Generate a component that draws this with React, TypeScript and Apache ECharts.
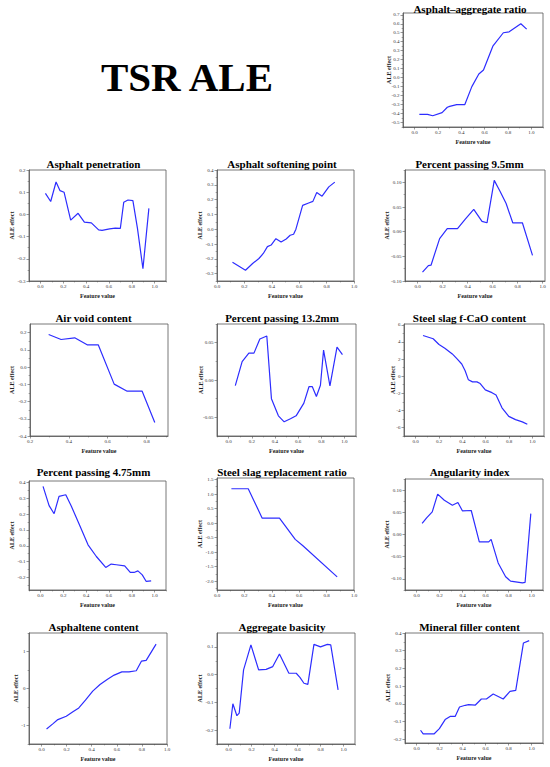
import React, { useEffect, useRef } from "react";
import * as echarts from "echarts";

// ---------- data ----------
const aggRatioX = [0.04, 0.11, 0.155, 0.235, 0.28, 0.30, 0.36, 0.43, 0.49, 0.55, 0.59, 0.67, 0.76, 0.81, 0.91, 0.96];
const aggRatioY = [-0.41, -0.41, -0.425, -0.39, -0.33, -0.32, -0.30, -0.30, -0.10, 0.04, 0.085, 0.35, 0.50, 0.51, 0.60, 0.54];

const penetrationX = [0.044, 0.09, 0.137, 0.172, 0.207, 0.265, 0.33, 0.385, 0.446, 0.51, 0.54, 0.606, 0.656, 0.70, 0.73, 0.767, 0.81, 0.85, 0.898, 0.95];
const penetrationY = [0.095, 0.058, 0.146, 0.107, 0.10, -0.026, 0.005, -0.035, -0.038, -0.07, -0.072, -0.065, -0.062, -0.063, 0.055, 0.065, 0.062, -0.063, -0.245, 0.027];

const softeningX = [0.113, 0.208, 0.26, 0.306, 0.338, 0.368, 0.395, 0.43, 0.468, 0.505, 0.534, 0.559, 0.576, 0.625, 0.669, 0.70, 0.728, 0.767, 0.816, 0.86];
const softeningY = [-0.223, -0.277, -0.232, -0.198, -0.164, -0.118, -0.107, -0.064, -0.086, -0.066, -0.041, -0.034, 0.0, 0.161, 0.177, 0.188, 0.248, 0.223, 0.286, 0.318];

const pass95X = [0.04, 0.087, 0.108, 0.177, 0.238, 0.32, 0.384, 0.45, 0.516, 0.556, 0.614, 0.66, 0.709, 0.762, 0.839, 0.92];
const pass95Y = [-0.082, -0.069, -0.068, -0.014, 0.006, 0.006, 0.026, 0.045, 0.021, 0.018, 0.104, 0.082, 0.057, 0.018, 0.018, -0.048];

const airVoidX = [0.296, 0.36, 0.43, 0.494, 0.551, 0.633, 0.70, 0.777, 0.842];
const airVoidY = [0.189, 0.16, 0.17, 0.129, 0.129, -0.099, -0.14, -0.14, -0.322];

const pass132X = [0.058, 0.117, 0.175, 0.219, 0.27, 0.33, 0.37, 0.43, 0.48, 0.534, 0.583, 0.65, 0.694, 0.723, 0.758, 0.793, 0.82, 0.875, 0.936, 0.983];
const pass132Y = [-0.0076, 0.0247, 0.036, 0.036, 0.055, 0.059, -0.025, -0.048, -0.056, -0.052, -0.048, -0.031, -0.009, -0.009, -0.022, -0.007, 0.040, -0.008, 0.044, 0.034];

const fCaoX = [0.063, 0.15, 0.2, 0.25, 0.314, 0.357, 0.395, 0.424, 0.452, 0.487, 0.525, 0.553, 0.597, 0.654, 0.689, 0.74, 0.798, 0.856, 0.914, 0.957];
const fCaoY = [4.76, 4.37, 3.7, 3.27, 2.6, 2.0, 1.42, 0.63, -0.43, -0.67, -0.67, -0.87, -1.6, -1.93, -2.2, -3.7, -4.7, -5.08, -5.35, -5.63];

const pass475X = [0.023, 0.076, 0.12, 0.163, 0.222, 0.271, 0.335, 0.417, 0.49, 0.572, 0.62, 0.665, 0.738, 0.787, 0.82, 0.854, 0.892, 0.927, 0.97];
const pass475Y = [0.376, 0.254, 0.203, 0.313, 0.323, 0.25, 0.144, 0.006, -0.068, -0.137, -0.116, -0.12, -0.127, -0.169, -0.169, -0.159, -0.184, -0.226, -0.222];

const replaceX = [0.105, 0.228, 0.33, 0.456, 0.571, 0.627, 0.877];
const replaceY = [1.18, 1.18, 0.17, 0.17, -0.56, -0.78, -1.85];

const angularX = [0.049, 0.088, 0.137, 0.184, 0.242, 0.312, 0.36, 0.40, 0.476, 0.546, 0.628, 0.649, 0.71, 0.775, 0.818, 0.921, 0.944, 0.994];
const angularY = [0.0248, 0.0376, 0.051, 0.091, 0.077, 0.066, 0.072, 0.053, 0.054, -0.0165, -0.0165, -0.011, -0.064, -0.095, -0.105, -0.109, -0.108, 0.047];

const asphalteneX = [0.04, 0.092, 0.13, 0.197, 0.25, 0.297, 0.35, 0.408, 0.466, 0.526, 0.579, 0.64, 0.697, 0.755, 0.797, 0.834, 0.913];
const asphalteneY = [-1.095, -0.95, -0.84, -0.75, -0.63, -0.525, -0.317, -0.072, 0.109, 0.253, 0.362, 0.45, 0.45, 0.48, 0.742, 0.76, 1.20];

const basicityX = [0.012, 0.038, 0.073, 0.093, 0.131, 0.195, 0.262, 0.327, 0.385, 0.443, 0.525, 0.589, 0.621, 0.656, 0.69, 0.743, 0.80, 0.86, 0.889, 0.953];
const basicityY = [-0.195, -0.105, -0.148, -0.139, 0.017, 0.107, 0.017, 0.019, 0.029, 0.074, 0.005, 0.005, -0.0096, -0.031, -0.035, 0.109, 0.10, 0.109, 0.107, -0.055];

const fillerX = [0.035, 0.058, 0.152, 0.199, 0.249, 0.292, 0.336, 0.374, 0.424, 0.453, 0.512, 0.564, 0.608, 0.667, 0.754, 0.813, 0.863, 0.93, 0.98];
const fillerY = [-0.148, -0.169, -0.169, -0.139, -0.088, -0.07, -0.07, -0.017, -0.0075, -0.004, -0.006, 0.028, 0.028, 0.056, 0.028, 0.071, 0.077, 0.344, 0.357];

// ---------- tick labels ----------
const xTicksUnit = [0, 0.2, 0.4, 0.6, 0.8, 1.0];
const xTicksAirVoid = [0.2, 0.4, 0.6, 0.8];
const yTicksAggRatio = [-0.5, -0.4, -0.3, -0.2, -0.1, 0, 0.1, 0.2, 0.3, 0.4, 0.5, 0.6, 0.7];
const yTicksPenetration = [-0.3, -0.2, -0.1, 0, 0.1, 0.2];
const yTicksSoftening = [-0.3, -0.2, -0.1, 0, 0.1, 0.2, 0.3, 0.4];
const yTicksPass95 = [-0.1, -0.05, 0, 0.05, 0.1];
const yTicksAirVoid = [-0.4, -0.3, -0.2, -0.1, 0, 0.1, 0.2];
const yTicksPass132 = [-0.05, 0, 0.05];
const yTicksFCao = [-6, -4, -2, 0, 2, 4, 6];
const yTicksPass475 = [-0.2, -0.1, 0, 0.1, 0.2, 0.3, 0.4];
const yTicksReplace = [-2.0, -1.5, -1.0, -0.5, 0, 0.5, 1.0, 1.5];
const yTicksAngular = [-0.1, -0.05, 0, 0.05, 0.1];
const yTicksAsphaltene = [-1, 0, 1];
const yTicksBasicity = [-0.2, -0.1, 0, 0.1];
const yTicksFiller = [-0.2, -0.1, 0, 0.1, 0.2, 0.3, 0.4];

const titles = [
  "Asphalt–aggregate ratio",
  "Asphalt penetration",
  "Asphalt softening point",
  "Percent passing 9.5mm",
  "Air void content",
  "Percent passing 13.2mm",
  "Steel slag f-CaO content",
  "Percent passing 4.75mm",
  "Steel slag replacement ratio",
  "Angularity index",
  "Asphaltene content",
  "Aggregate basicity",
  "Mineral filler content",
];

const panels = [
  { xs: aggRatioX, ys: aggRatioY, xT: xTicksUnit, yT: yTicksAggRatio, xD: 1, yD: 1, xR: [-0.1, 1.1], yR: [-0.55, 0.72] },
  { xs: penetrationX, ys: penetrationY, xT: xTicksUnit, yT: yTicksPenetration, xD: 1, yD: 1, xR: [-0.1, 1.1], yR: [-0.3, 0.2] },
  { xs: softeningX, ys: softeningY, xT: xTicksUnit, yT: yTicksSoftening, xD: 1, yD: 1, xR: [0, 1], yR: [-0.35, 0.4] },
  { xs: pass95X, ys: pass95Y, xT: xTicksUnit, yT: yTicksPass95, xD: 1, yD: 2, xR: [-0.1, 1.02], yR: [-0.1, 0.125] },
  { xs: airVoidX, ys: airVoidY, xT: xTicksAirVoid, yT: yTicksAirVoid, xD: 1, yD: 1, xR: [0.2, 0.91], yR: [-0.4, 0.25] },
  { xs: pass132X, ys: pass132Y, xT: xTicksUnit, yT: yTicksPass132, xD: 1, yD: 2, xR: [-0.1, 1.1], yR: [-0.075, 0.075] },
  { xs: fCaoX, ys: fCaoY, xT: xTicksUnit, yT: yTicksFCao, xD: 1, yD: 0, xR: [-0.1, 1.1], yR: [-7, 6.1] },
  { xs: pass475X, ys: pass475Y, xT: xTicksUnit, yT: yTicksPass475, xD: 1, yD: 1, xR: [-0.1, 1.1], yR: [-0.28, 0.41] },
  { xs: replaceX, ys: replaceY, xT: xTicksUnit, yT: yTicksReplace, xD: 1, yD: 1, xR: [0, 1], yR: [-2.3, 1.55] },
  { xs: angularX, ys: angularY, xT: xTicksUnit, yT: yTicksAngular, xD: 1, yD: 2, xR: [-0.1, 1.1], yR: [-0.125, 0.125] },
  { xs: asphalteneX, ys: asphalteneY, xT: xTicksUnit, yT: yTicksAsphaltene, xD: 1, yD: 0, xR: [-0.1, 1.0], yR: [-1.5, 1.5] },
  { xs: basicityX, ys: basicityY, xT: xTicksUnit, yT: yTicksBasicity, xD: 1, yD: 1, xR: [-0.1, 1.1], yR: [-0.25, 0.15] },
  { xs: fillerX, ys: fillerY, xT: xTicksUnit, yT: yTicksFiller, xD: 1, yD: 1, xR: [-0.1, 1.1], yR: [-0.22, 0.4] },
];

// ---------- layout (pixels) ----------
const layouts = [
  { box: [403, 13, 140, 114], tx: 470, ty: 8.5, nx: 389 },
  { box: [29, 170, 137, 111], tx: 93.5, ty: 164, nx: 12 },
  { box: [217, 170, 137, 111], tx: 282, ty: 163.5, nx: 200 },
  { box: [405, 170, 140, 111], tx: 469.5, ty: 163.5, nx: 387 },
  { box: [30, 324, 138, 112], tx: 93.5, ty: 318, nx: 12 },
  { box: [217, 324, 139, 112], tx: 282, ty: 318, nx: 201 },
  { box: [404, 324, 140, 112], tx: 469.5, ty: 318, nx: 393 },
  { box: [29, 481, 137, 109], tx: 93.5, ty: 472, nx: 12 },
  { box: [217, 478, 137, 112], tx: 282, ty: 472, nx: 200 },
  { box: [405, 479, 138, 111], tx: 469.5, ty: 472, nx: 387 },
  { box: [29, 633, 138, 111], tx: 93.5, ty: 627, nx: 16 },
  { box: [217, 633, 138, 111], tx: 282, ty: 627, nx: 200 },
  { box: [405, 633, 138, 110], tx: 469.5, ty: 627, nx: 388 },
];

const FONT = "'Liberation Serif', 'Times New Roman', serif";
const AXIS_COLOR = "#555";
const LINE_COLOR = "#2d2dff";

function minors(ticks: number[], lo: number, hi: number): number[] {
  if (ticks.length < 2) return [];
  const step = ticks[1] - ticks[0];
  const out: number[] = [];
  const first = ticks[0] - step / 2;
  for (let v = first; v <= hi + 1e-9; v += step) {
    if (v >= lo - 1e-9) out.push(v);
  }
  return out;
}

function buildOption() {
  const grid: any[] = [];
  const xAxis: any[] = [];
  const yAxis: any[] = [];
  const series: any[] = [];
  const graphic: any[] = [];

  graphic.push({
    type: "text",
    x: 187,
    y: 77,
    style: {
      text: "TSR ALE",
      fontSize: 41,
      fontWeight: "bold",
      fontFamily: FONT,
      fill: "#000",
      textAlign: "center",
      align: "center",
      textVerticalAlign: "middle",
      verticalAlign: "middle",
    },
  });

  panels.forEach((p, i) => {
    const L = layouts[i];
    const [left, top, width, height] = L.box;
    grid.push({
      left,
      top,
      width,
      height,
      show: true,
      borderColor: AXIS_COLOR,
      borderWidth: 0.8,
      backgroundColor: "transparent",
      containLabel: false,
      outerBoundsMode: "none",
    });
    const common = (dec: number) => ({
      fontSize: 5,
      fontFamily: FONT,
      color: "#333",
      formatter: (v: number) => Number(v).toFixed(dec),
    });
    xAxis.push({
      type: "value",
      gridIndex: i,
      position: "bottom",
      min: p.xR[0],
      max: p.xR[1],
      axisLine: { show: true, onZero: false, lineStyle: { color: AXIS_COLOR, width: 0.8 } },
      axisTick: { show: true, customValues: p.xT, length: 2.5, lineStyle: { color: AXIS_COLOR, width: 0.6 } },
      axisLabel: { ...common(p.xD), customValues: p.xT, margin: 3 },
      splitLine: { show: false },
    });
    xAxis.push({
      type: "value",
      gridIndex: i,
      position: "bottom",
      min: p.xR[0],
      max: p.xR[1],
      axisLine: { show: false, onZero: false },
      axisTick: { show: true, customValues: minors(p.xT, p.xR[0], p.xR[1]), length: 1.4, lineStyle: { color: AXIS_COLOR, width: 0.5 } },
      axisLabel: { show: false },
      splitLine: { show: false },
    });
    yAxis.push({
      type: "value",
      gridIndex: i,
      position: "left",
      min: p.yR[0],
      max: p.yR[1],
      axisLine: { show: true, onZero: false, lineStyle: { color: AXIS_COLOR, width: 0.8 } },
      axisTick: { show: true, customValues: p.yT, length: 2.5, lineStyle: { color: AXIS_COLOR, width: 0.6 } },
      axisLabel: { ...common(p.yD), customValues: p.yT, margin: 3.5 },
      splitLine: { show: false },
    });
    yAxis.push({
      type: "value",
      gridIndex: i,
      position: "left",
      min: p.yR[0],
      max: p.yR[1],
      axisLine: { show: false, onZero: false },
      axisTick: { show: true, customValues: minors(p.yT, p.yR[0], p.yR[1]), length: 1.4, lineStyle: { color: AXIS_COLOR, width: 0.5 } },
      axisLabel: { show: false },
      splitLine: { show: false },
    });
    series.push({
      type: "line",
      xAxisIndex: 2 * i,
      yAxisIndex: 2 * i,
      data: p.xs.map((x, j) => [x, p.ys[j]]),
      showSymbol: false,
      symbol: "none",
      silent: true,
      lineStyle: { color: LINE_COLOR, width: 1.2 },
    });

    graphic.push({
      type: "text",
      x: L.tx,
      y: L.ty,
      style: {
        text: titles[i],
        fontSize: 11,
        fontWeight: "bold",
        fontFamily: FONT,
        fill: "#000",
        textAlign: "center",
        align: "center",
        textVerticalAlign: "middle",
        verticalAlign: "middle",
      },
    });
    graphic.push({
      type: "text",
      x: left + width / 2,
      y: top + height + 15,
      style: {
        text: "Feature value",
        fontSize: 6,
        fontWeight: "bold",
        fontFamily: FONT,
        fill: "#222",
        textAlign: "center",
        align: "center",
        textVerticalAlign: "middle",
        verticalAlign: "middle",
      },
    });
    graphic.push({
      type: "text",
      x: L.nx,
      y: top + height / 2,
      rotation: Math.PI / 2,
      style: {
        text: "ALE effect",
        fontSize: 6,
        fontWeight: "bold",
        fontFamily: FONT,
        fill: "#222",
        textAlign: "center",
        align: "center",
        textVerticalAlign: "middle",
        verticalAlign: "middle",
      },
    });
  });

  return {
    animation: false,
    backgroundColor: "#fff",
    grid,
    xAxis,
    yAxis,
    series,
    graphic,
  };
}

export default function App() {
  const ref = useRef<HTMLDivElement>(null);
  useEffect(() => {
    document.body.style.margin = "0";
    if (!ref.current) return;
    const chart = echarts.init(ref.current, undefined, { renderer: "svg" });
    chart.setOption(buildOption() as any);
    return () => chart.dispose();
  }, []);
  return <div ref={ref} style={{ width: 550, height: 767 }} />;
}
